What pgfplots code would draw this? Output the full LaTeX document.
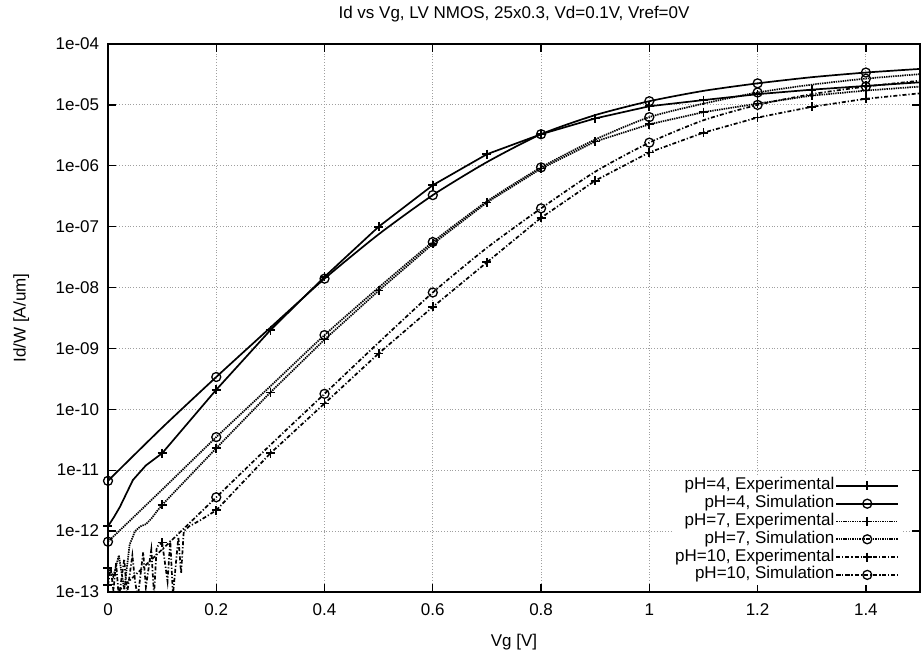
\documentclass[border=0pt]{standalone}
\usepackage{fontspec}
\setmainfont{Liberation Sans}
\usepackage{pgfplots}
\pgfplotsset{compat=1.18}
\begin{document}
\fontsize{17}{20}\selectfont
\begin{tikzpicture}
\useasboundingbox (-108pt,-61pt) rectangle (815pt,592pt);
\begin{axis}[
  at={(0,0)}, anchor=south west,
  scale only axis, width=812pt, height=548pt,
  xmin=0, xmax=1.5, ymode=log, ymin=1e-13, ymax=1e-4,
  yminorticks=false,
  xtick={0,0.2,0.4,0.6,0.8,1,1.2,1.4},
  xticklabels={0,0.2,0.4,0.6,0.8,1,1.2,1.4},
  ytick={1e-13,1e-12,1e-11,1e-10,1e-9,1e-8,1e-7,1e-6,1e-5,1e-4},
  yticklabels={1e-13,1e-12,1e-11,1e-10,1e-09,1e-08,1e-07,1e-06,1e-05,1e-04},
  /pgf/number format/assume math mode=true,
  axis line style={line width=1.3pt},
  major tick length=8pt,
  tick style={line width=1.3pt, black},
  grid=major,
  major grid style={gray!75, line width=0.8pt, dash pattern=on 0.8pt off 2pt},
  x tick label style={yshift=-6pt},
  y tick label style={xshift=-3pt},
  title={Id vs Vg, LV NMOS, 25x0.3, Vd=0.1V, Vref=0V},
  title style={at={(axis description cs:0.5,1.043)}, anchor=center},
  xlabel={Vg [V]},
  xlabel style={at={(axis description cs:0.5,-0.091)}, anchor=center},
  ylabel={Id/W [A/um]},
  ylabel style={at={(axis description cs:-0.107,0.5)}, anchor=center},
  legend cell align=right,
  legend plot pos=right,
  legend image code/.code={\draw[mark repeat=2,mark phase=2,#1] plot coordinates {(4pt,0pt) (35pt,0pt) (66pt,0pt)};},
  legend style={at={(rel axis cs:0.977,0.0128)}, anchor=south east, draw=none, fill=white,
    font=\fontsize{17}{17}\selectfont, row sep=0pt, inner xsep=2pt, inner ysep=1pt,
    nodes={inner sep=1pt, text height=12pt, text depth=3.8pt}},
  every axis plot/.append style={line width=1.7pt, black},
]
% ---------- pH=4 Experimental ----------
\addplot[solid, mark=+, mark size=4.5pt, mark repeat=1000, forget plot] table {
0 1.2e-12
0.011 1.7e-12
0.022 2.5e-12
0.046 6.9e-12
0.07 1.2e-11
0.1 1.9e-11
};
\addplot[solid, mark=+, mark size=4.5pt, mark options={solid}] table {
0.1 1.9e-11
0.2 2.1e-10
0.3 2.0e-9
0.4 1.5e-8
0.5 1.0e-7
0.6 4.8e-7
0.7 1.55e-6
0.8 3.3e-6
0.9 6.0e-6
1.0 9.5e-6
1.1 1.2e-5
1.2 1.5e-5
1.3 1.78e-5
1.4 2.05e-5
};
\addlegendentry{pH=4, Experimental}
\addplot[solid, forget plot] table {
1.4 2.05e-5
1.5 2.35e-5
};
% ---------- pH=4 Simulation ----------
\addplot[solid, mark=o, mark size=4.5pt, mark repeat=2, mark options={solid, line width=1.3pt}, smooth, tension=0.4] table {
0 6.7e-12
0.1 5.0e-11
0.2 3.4e-10
0.3 2.2e-9
0.4 1.4e-8
0.5 7.5e-8
0.6 3.3e-7
0.7 1.15e-6
0.8 3.3e-6
0.9 6.8e-6
1.0 1.15e-5
1.1 1.7e-5
1.2 2.26e-5
1.3 2.85e-5
1.4 3.4e-5
1.5 3.9e-5
};
\addlegendentry{pH=4, Simulation}
% ---------- pH=7 Experimental ----------
\addplot[dash pattern=on 1.4pt off 0.9pt, mark=+, mark size=4.5pt, mark repeat=1000, mark options={solid}, forget plot] table {
0 2.5e-13
0.01 1.8e-13
0.02 4e-13
0.03 1.1e-13
0.04 6e-13
0.05 1.0e-12
0.06 1.2e-12
0.07 1.3e-12
0.08 1.6e-12
0.09 2.1e-12
0.1 2.7e-12
};
\addplot[dash pattern=on 1.4pt off 0.9pt, mark=+, mark size=4.5pt, mark options={solid}] table {
0.1 2.7e-12
0.2 2.3e-11
0.3 1.9e-10
0.4 1.4e-9
0.5 8.9e-9
0.6 5.2e-8
0.7 2.5e-7
0.8 9.0e-7
0.9 2.5e-6
1.0 4.8e-6
1.1 7.6e-6
1.2 1.05e-5
1.3 1.42e-5
1.4 1.72e-5
};
\addlegendentry{pH=7, Experimental}
\addplot[dash pattern=on 1.4pt off 0.9pt, forget plot] table {
1.4 1.72e-5
1.5 2.0e-5
};
% ---------- pH=7 Simulation ----------
\addplot[dash pattern=on 1.4pt off 0.9pt, mark=o, mark size=4.5pt, mark repeat=2, mark options={solid, line width=1.3pt}, smooth, tension=0.4] table {
0 6.7e-13
0.1 4.8e-12
0.2 3.5e-11
0.3 2.4e-10
0.4 1.66e-9
0.5 1.0e-8
0.6 5.6e-8
0.7 2.6e-7
0.8 9.4e-7
0.9 2.7e-6
1.0 6.3e-6
1.1 1.05e-5
1.2 1.6e-5
1.3 2.15e-5
1.4 2.7e-5
1.5 3.2e-5
};
\addlegendentry{pH=7, Simulation}
% ---------- pH=10 Experimental ----------
\addplot[dash pattern=on 4pt off 2pt on 1.2pt off 2pt, mark=+, mark size=4.5pt, mark repeat=1000, mark options={solid}, forget plot] table {
0 1.3e-13
0.005 2.5e-13
0.01 1.05e-13
0.015 3e-13
0.02 8e-14
0.03 3.5e-13
0.035 9e-14
0.045 4e-13
0.05 1.5e-13
0.055 8e-14
0.065 4.5e-13
0.07 1.2e-13
0.08 5e-13
0.085 9e-14
0.09 5.5e-13
0.1 6.5e-13
};
\addplot[dash pattern=on 4pt off 2pt on 1.2pt off 2pt, mark=+, mark size=4.5pt, mark repeat=1000, mark options={solid}, forget plot] table {
0.1 6.5e-13
0.11 1.5e-13
0.115 7e-13
0.12 9e-14
0.13 8e-13
0.135 2e-13
0.14 1.0e-12
0.15 1.2e-12
0.17 1.5e-12
0.2 2.2e-12
};
\addplot[dash pattern=on 4pt off 2pt on 1.2pt off 2pt, mark=+, mark size=4.5pt, mark options={solid}] table {
0.2 2.2e-12
0.3 1.9e-11
0.4 1.25e-10
0.5 8.3e-10
0.6 4.8e-9
0.7 2.6e-8
0.8 1.4e-7
0.9 5.7e-7
1.0 1.66e-6
1.1 3.5e-6
1.2 6.2e-6
1.3 9.3e-6
1.4 1.26e-5
};
\addlegendentry{pH=10, Experimental}
\addplot[dash pattern=on 4pt off 2pt on 1.2pt off 2pt, forget plot] table {
1.4 1.26e-5
1.5 1.55e-5
};
% ---------- pH=10 Simulation ----------
\addplot[dash pattern=on 4pt off 2pt on 1.2pt off 2pt, mark=o, mark size=4.5pt, mark repeat=2, mark phase=3, mark options={solid, line width=1.3pt}, smooth, tension=0.4] table {
0.02 1.05e-13
0.1 5e-13
0.2 3.6e-12
0.3 2.6e-11
0.4 1.8e-10
0.5 1.25e-9
0.6 8.3e-9
0.7 4.5e-8
0.8 2.0e-7
0.9 8.0e-7
1.0 2.4e-6
1.1 5.6e-6
1.2 1.0e-5
1.3 1.5e-5
1.4 2.0e-5
1.5 2.5e-5
};
\addlegendentry{pH=10, Simulation}
\end{axis}
\end{tikzpicture}
\end{document}
